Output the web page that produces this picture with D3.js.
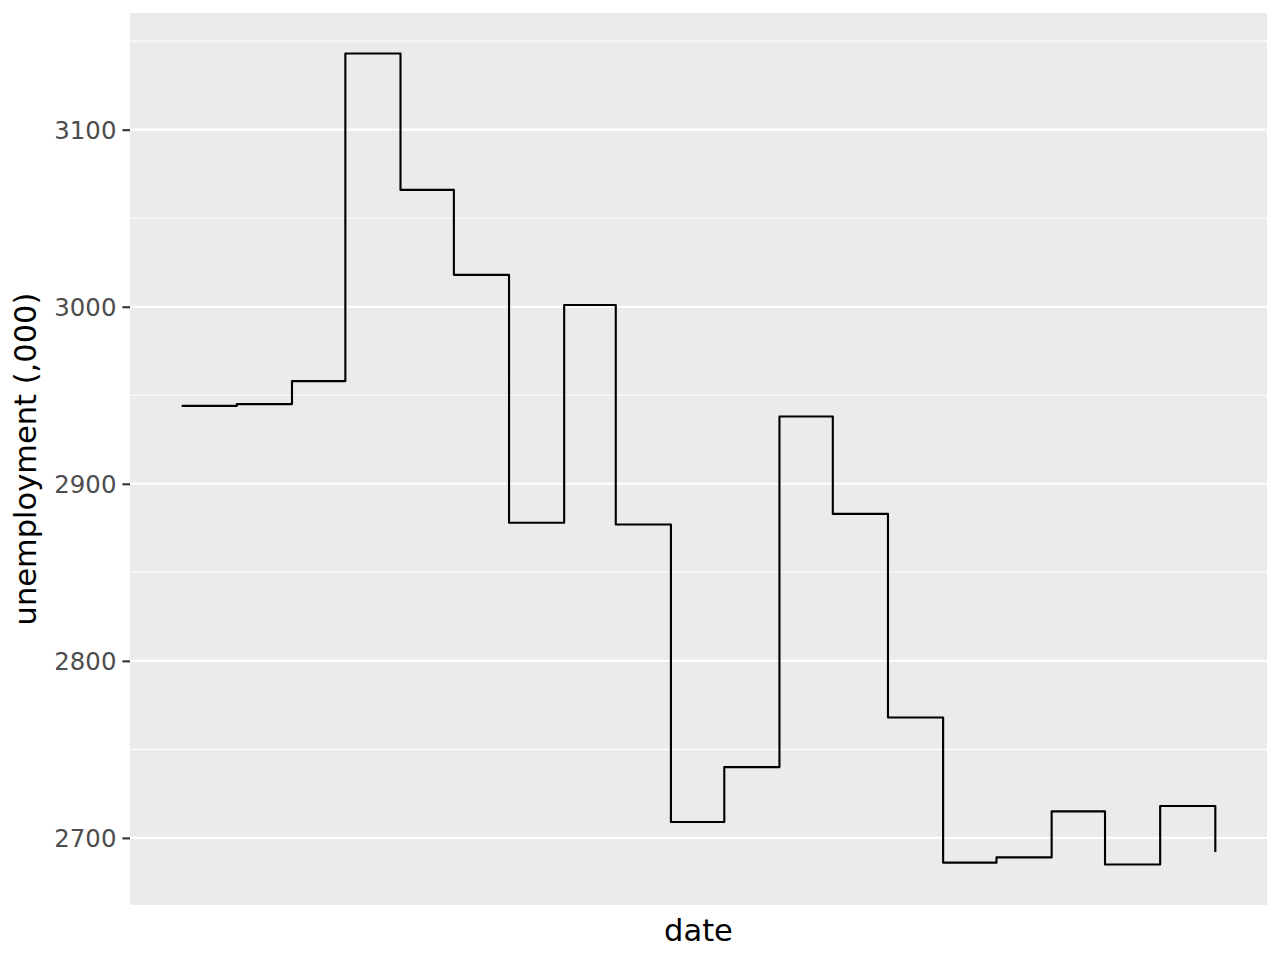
<!DOCTYPE html>
<html>
<head>
<meta charset="utf-8">
<script src="https://cdn.jsdelivr.net/npm/d3@7"></script>
<style>
  html, body { margin: 0; padding: 0; background: #fff; }
  svg { display: block; font-family: "DejaVu Sans", sans-serif; }
</style>
</head>
<body>
<svg id="chart" width="1280" height="960"></svg>
<script>
const dates = ["1967-07-01","1967-08-01","1967-09-01","1967-10-01","1967-11-01","1967-12-01",
  "1968-01-01","1968-02-01","1968-03-01","1968-04-01","1968-05-01","1968-06-01",
  "1968-07-01","1968-08-01","1968-09-01","1968-10-01","1968-11-01","1968-12-01",
  "1969-01-01","1969-02-01"];
const unemploy = [2944,2945,2958,3143,3066,3018,2878,3001,2877,2709,2740,2938,2883,2768,2686,2689,2715,2685,2718,2692];
const yTicks = [2700,2800,2900,3000,3100];
const yMinor = [2750,2850,2950,3050,3150];
const xLabel = "date";
const yLabel = "unemployment (,000)";

const parse = d3.utcParse("%Y-%m-%d");
const data = dates.map((d, i) => ({ date: parse(d), value: unemploy[i] }));

const svg = d3.select("#chart");
const panel = { left: 130, top: 13, right: 1267, bottom: 905 };

const xExt = d3.extent(data, d => d.date);
const xPad = (xExt[1] - xExt[0]) * 0.05;
const x = d3.scaleUtc()
  .domain([new Date(+xExt[0] - xPad), new Date(+xExt[1] + xPad)])
  .range([panel.left, panel.right]);

const yExt = d3.extent(data, d => d.value);
const yPad = (yExt[1] - yExt[0]) * 0.05;
const y = d3.scaleLinear()
  .domain([yExt[0] - yPad, yExt[1] + yPad])
  .range([panel.bottom, panel.top]);

// panel background
svg.append("rect")
  .attr("x", panel.left).attr("y", panel.top)
  .attr("width", panel.right - panel.left).attr("height", panel.bottom - panel.top)
  .attr("fill", "#EBEBEB");

// minor grid
svg.append("g").selectAll("line").data(yMinor.filter(v => v >= y.domain()[0] && v <= y.domain()[1]))
  .join("line")
  .attr("x1", panel.left).attr("x2", panel.right)
  .attr("y1", d => y(d)).attr("y2", d => y(d))
  .attr("stroke", "#fff").attr("stroke-width", 1.07);

// major grid
svg.append("g").selectAll("line").data(yTicks)
  .join("line")
  .attr("x1", panel.left).attr("x2", panel.right)
  .attr("y1", d => y(d)).attr("y2", d => y(d))
  .attr("stroke", "#fff").attr("stroke-width", 2.13);

// y axis
const yAxis = svg.append("g")
  .attr("transform", `translate(${panel.left},0)`)
  .call(d3.axisLeft(y).tickValues(yTicks).tickSize(7.6).tickPadding(6).tickFormat(d3.format("d")));
yAxis.attr("font-size", null).attr("font-family", null);
yAxis.select(".domain").remove();
yAxis.selectAll(".tick line").attr("stroke", "#333333").attr("stroke-width", 2.13);
yAxis.selectAll(".tick text")
  .attr("fill", "#4D4D4D")
  .style("font-size", "24.4px")
  .style("font-family", "'DejaVu Sans', sans-serif")
  .attr("dy", "0.36em");

// step line
const line = d3.line()
  .x(d => x(d.date))
  .y(d => y(d.value))
  .curve(d3.curveStepAfter);
svg.append("path")
  .datum(data)
  .attr("d", line)
  .attr("fill", "none")
  .attr("stroke", "#000")
  .attr("stroke-width", 2.13)
  .attr("stroke-linejoin", "round");

// axis titles
svg.append("text")
  .attr("x", (panel.left + panel.right) / 2)
  .attr("y", 941)
  .attr("text-anchor", "middle")
  .style("font-size", "30.5px")
  .attr("fill", "#000")
  .text(xLabel);

svg.append("text")
  .attr("transform", `translate(36,${(panel.top + panel.bottom) / 2}) rotate(-90)`)
  .attr("text-anchor", "middle")
  .style("font-size", "30.5px")
  .attr("fill", "#000")
  .text(yLabel);
</script>
</body>
</html>
